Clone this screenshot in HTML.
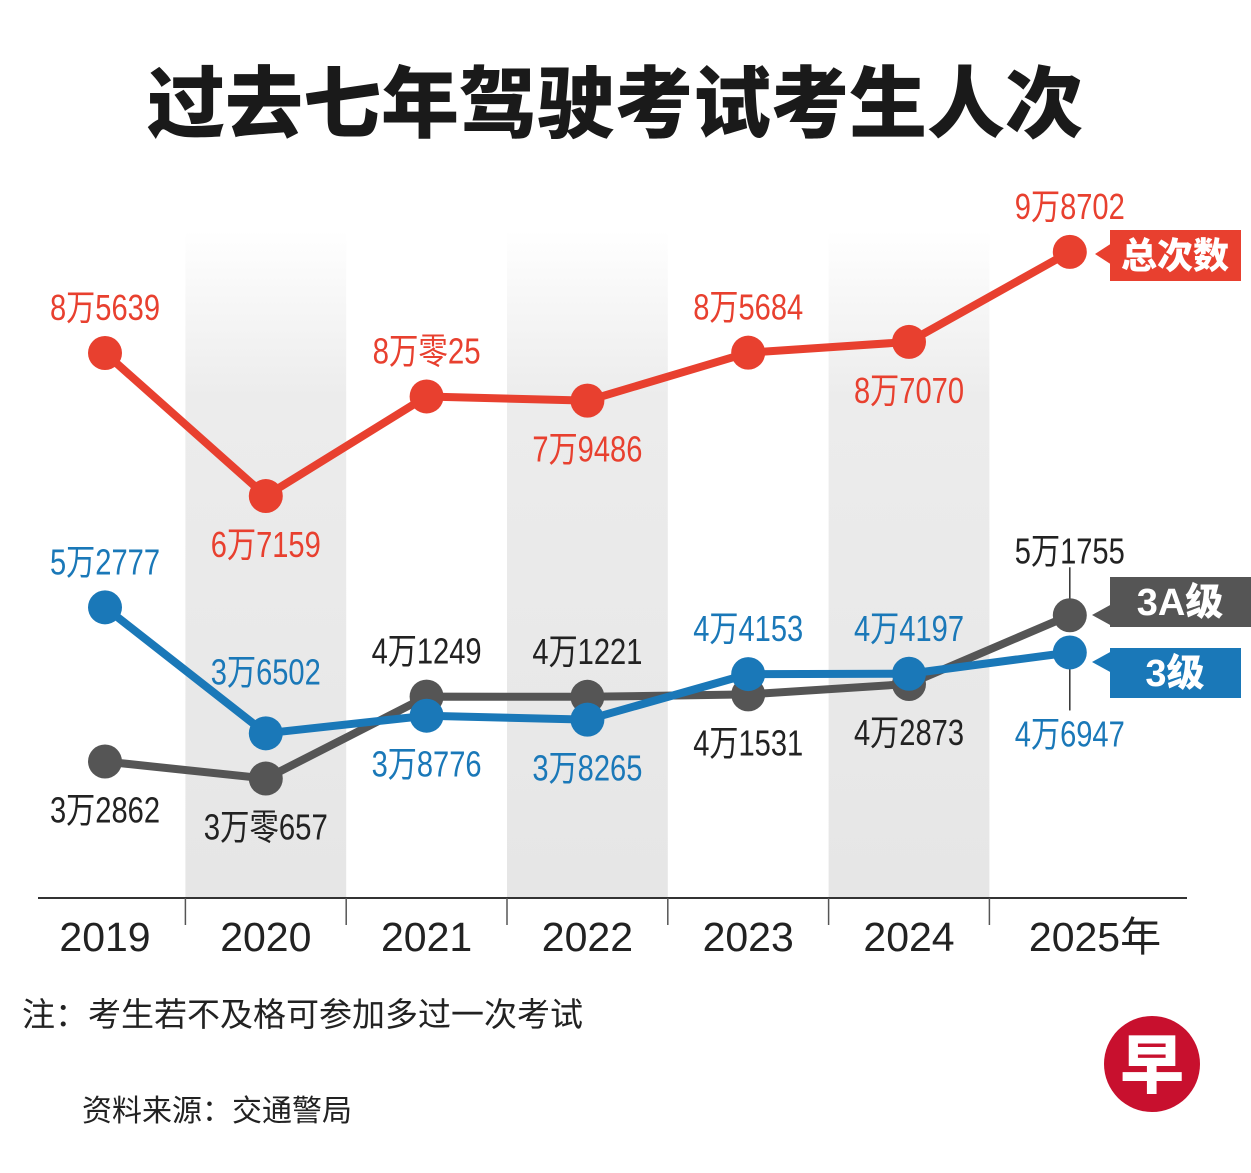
<!DOCTYPE html>
<html><head><meta charset="utf-8"><style>
body{margin:0;background:#fff;}
svg{display:block;font-family:"Liberation Sans","Noto Sans CJK SC",sans-serif;}
</style></head><body>
<svg id="chart" width="1251" height="1173" viewBox="0 0 1251 1173">
<defs>
<linearGradient id="band" x1="0" y1="0" x2="0" y2="1">
<stop offset="0" stop-color="#ececec" stop-opacity="0"/>
<stop offset="0.25" stop-color="#ececec" stop-opacity="1"/>
<stop offset="1" stop-color="#e6e6e6"/>
</linearGradient>
</defs>
<text x="615" y="131" text-anchor="middle" font-size="78" font-weight="900" fill="#1a1a1a" font-family="'Noto Sans CJK SC',sans-serif">过去七年驾驶考试考生人次</text>
<g id="bands"></g>
<line x1="38" y1="898" x2="1187" y2="898" stroke="#333" stroke-width="2"/>
<g id="ticks"></g>
<g id="lines"></g>
<g id="labels"></g>
<g>
<polygon points="1095,254 1112,243 1112,265" fill="#e8402f"/>
<rect x="1110" y="230" width="131" height="51" fill="#e8402f"/>
<text x="1175" y="268" text-anchor="middle" font-size="36" font-weight="900" fill="#fff" font-family="'Noto Sans CJK SC',sans-serif">总次数</text>
</g>
<g>
<polygon points="1092,615 1112,604 1112,626" fill="#555"/>
<rect x="1110" y="577" width="141" height="50" fill="#555"/>
<text x="1180" y="615" text-anchor="middle" font-size="38" font-weight="900" fill="#fff" font-family="'Liberation Sans','Noto Sans CJK SC',sans-serif">3A级</text>
</g>
<g>
<polygon points="1092,662 1112,651 1112,673" fill="#1a78b8"/>
<rect x="1110" y="648" width="131" height="50" fill="#1a78b8"/>
<text x="1175" y="686" text-anchor="middle" font-size="38" font-weight="900" fill="#fff" font-family="'Liberation Sans','Noto Sans CJK SC',sans-serif">3级</text>
</g>
<text x="22" y="1026" font-size="33" fill="#222">注：考生若不及格可参加多过一次考试</text>
<text x="82" y="1121" font-size="30" fill="#222">资料来源：交通警局</text>
<g>
<circle cx="1152" cy="1064" r="48" fill="#c8102e"/>
<text x="1152" y="1088" text-anchor="middle" font-size="64" font-weight="900" fill="#fff" font-family="'Noto Sans CJK SC',sans-serif">早</text>
</g>
</svg>
<script>
const years = ["2019","2020","2021","2022","2023","2024","2025年"];
const totalValues = [85639,67159,80025,79486,85684,87070,98702];
const class3aValues = [32862,30657,41249,41221,41531,42873,51755];
const class3Values = [52777,36502,38776,38265,44153,44197,46947];
const totalLabels = ["8万5639","6万7159","8万零25","7万9486","8万5684","8万7070","9万8702"];
const class3aLabels = ["3万2862","3万零657","4万1249","4万1221","4万1531","4万2873","5万1755"];
const class3Labels = ["5万2777","3万6502","3万8776","3万8265","4万4153","4万4197","4万6947"];
const totalPos = ["above","below","above","below","above","below","above"];
const class3aPos = ["below","below","above","above","below","below","above"];
const class3Pos = ["above","above","below","below","above","above","below"];

const NS="http://www.w3.org/2000/svg";
const xAt = i => 105 + i*160.8;
const yAt = v => 353 + (85639 - v)*0.00774;
function mk(tag, attrs, parent){const e=document.createElementNS(NS,tag);for(const k in attrs)e.setAttribute(k,attrs[k]);parent.appendChild(e);return e;}
const bands=document.getElementById('bands'), ticks=document.getElementById('ticks');
const lines=document.getElementById('lines'), labels=document.getElementById('labels');
years.forEach((y,i)=>{
  if(i%2===1){
    const b=mk('rect',{x:xAt(i)-80.4,y:230,width:160.8,height:668,fill:'url(#band)'},bands);
    
    
  }
  if(i>0){
    const t=mk('line',{x1:xAt(i)-80.4,x2:xAt(i)-80.4,y1:898,y2:925,stroke:'#555','stroke-width':1.5},ticks);
    
    
  }
  const lx = i===6 ? 1095 : xAt(i);
  const tl=mk('text',{x:lx,y:951,'text-anchor':'middle','font-size':41,fill:'#222'},ticks);
  tl.textContent=y;
  
  
});
function tlen(s){let n=0;for(const c of s){n+=/[0-9]/.test(c)?16:30;}return n;}
function series(vals, labs, pos, color, textColor, name, extra){
  const g=mk('g',{},lines);
  
  
  const pts=vals.map((v,i)=>xAt(i)+','+yAt(v)).join(' ');
  const pl=mk('polyline',{points:pts,fill:'none',stroke:color,'stroke-width':8,'stroke-linejoin':'round'},g);
  
  
  vals.forEach((v,i)=>{
    const c=mk('circle',{cx:xAt(i),cy:yAt(v),r:17,fill:color},g);
    
    
    const ly = (pos[i]==='above' ? yAt(v)-33 : yAt(v)+61) + (extra[i]||0);
    const t=mk('text',{x:xAt(i),y:ly,'text-anchor':'middle','font-size':36,fill:textColor,textLength:tlen(labs[i]),lengthAdjust:'spacingAndGlyphs'},labels);
    t.textContent=labs[i];
    
    
  });
}
const l1=mk('line',{x1:xAt(6),x2:xAt(6),y1:yAt(class3aValues[6])-48,y2:yAt(class3aValues[6]),stroke:'#333','stroke-width':1.5},lines);


const l2=mk('line',{x1:xAt(6),x2:xAt(6),y1:yAt(class3Values[6]),y2:yAt(class3Values[6])+58,stroke:'#333','stroke-width':1.5},lines);


series(class3aValues,class3aLabels,class3aPos,'#555555','#222','class-3a',{6:-19});
series(class3Values,class3Labels,class3Pos,'#1a78b8','#1a78b8','class-3',{1:-16,6:33});
series(totalValues,totalLabels,totalPos,'#e8402f','#e8402f','total',{});
</script>
</body></html>
